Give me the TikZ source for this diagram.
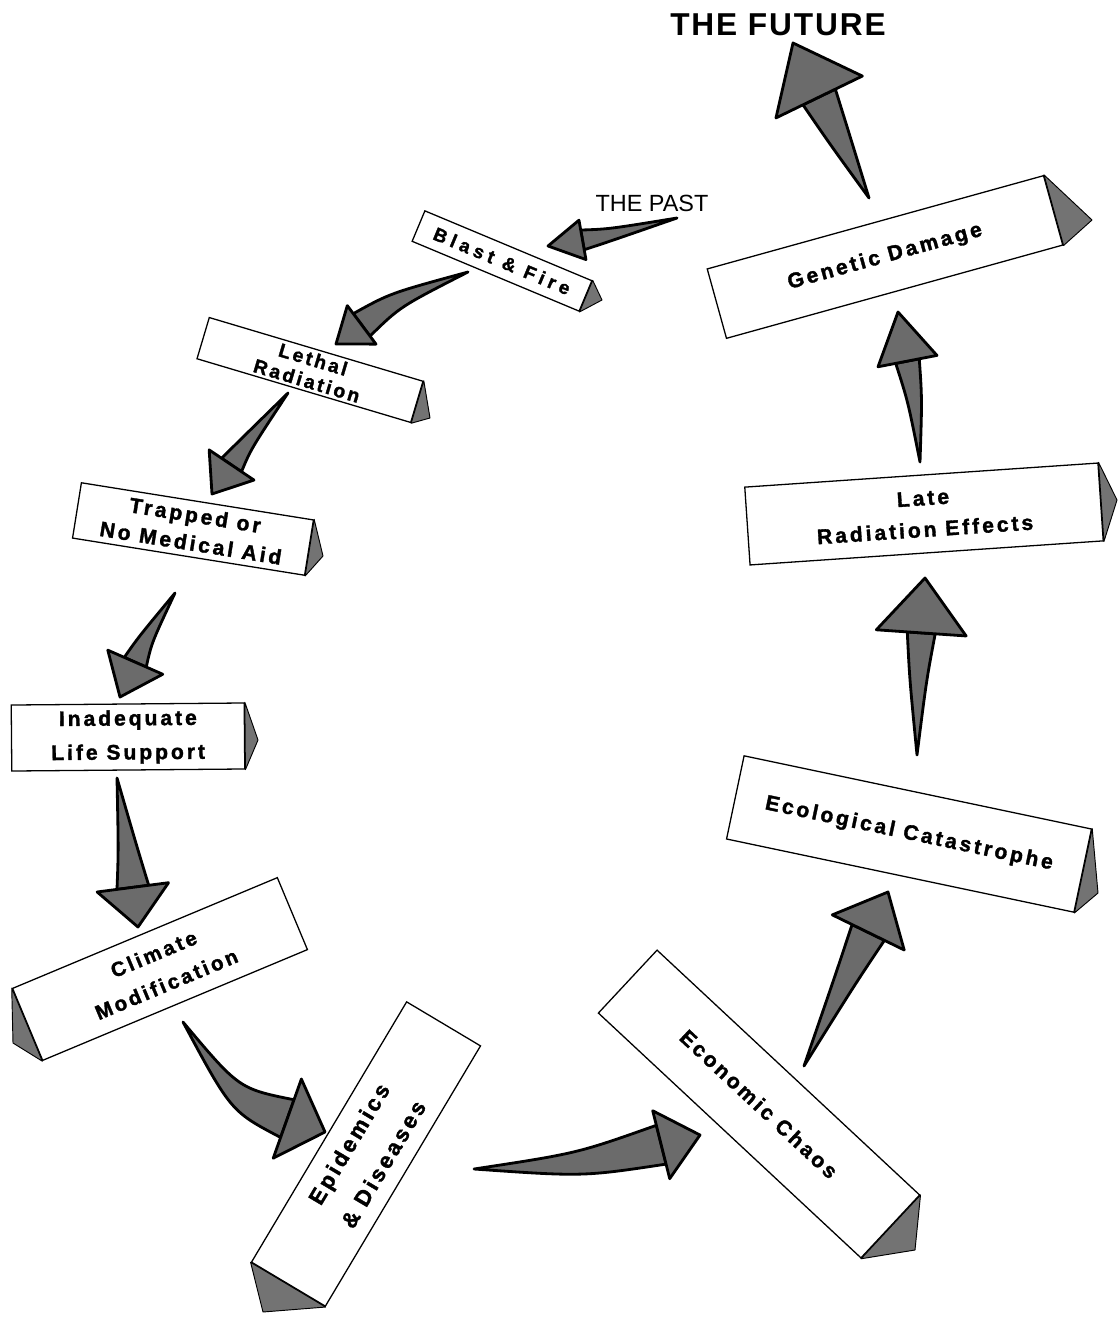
\documentclass[tikz,border=0pt]{standalone}
\usepackage{fontspec}
\setmainfont{Liberation Sans}
\newfontfamily\labelfont[LetterSpace=14, BoldFeatures={FakeBold=1.6}]{Liberation Sans}
\newfontfamily\widefont[LetterSpace=25, BoldFeatures={FakeBold=1.6}]{Liberation Sans}
\newfontfamily\titlefont[LetterSpace=6]{Liberation Sans}
\usetikzlibrary{calc}
\def\pxl{0.3mm}

% fat gray arrow: name, tail, bend, tip, head length, shaft half width, head half width
\newcommand{\fatarrow}[7]{%
  \coordinate (#1-b) at ($(#4)!#5*\pxl!(#3)$);
  \filldraw[fat] (#2) .. controls ($(#3)!#6*0.6*\pxl!90:(#1-b)$) .. ($(#1-b)!#6*\pxl!90:(#4)$)
    -- ($(#1-b)!#6*\pxl!-90:(#4)$) .. controls ($(#3)!#6*0.6*\pxl!-90:(#1-b)$) .. (#2) -- cycle;
  \filldraw[fat] ($(#1-b)!#7*\pxl!90:(#4)$) -- (#4) -- ($(#1-b)!#7*\pxl!-90:(#4)$) -- cycle;
}

\begin{document}
\begin{tikzpicture}[x=\pxl, y=-\pxl,
  box/.style={draw, line width=1.1pt, fill=white, inner sep=0pt, align=center},
  fs/.style 2 args={font=\labelfont\bfseries\fontsize{#1}{#2}\selectfont},
  endface/.style={draw, line width=0.8pt, fill=black!55, line join=round},
  fat/.style={draw, line width=2.4pt, fill=black!58, line join=round}
]
  \useasboundingbox (0,0) rectangle (1119,1317);

  % Titles
  \node[font=\titlefont\bfseries\fontsize{27}{30}\selectfont] (future) at (778,25) {THE FUTURE};
  \node[font=\fontsize{20}{24}\selectfont] (past) at (652,203) {THE PAST};

  % Left side, going down
  \node[box, font=\widefont\bfseries\fontsize{16}{18}\selectfont, rotate=-22.7,
        minimum width=181*\pxl, minimum height=33*\pxl]
    (blast) at (502,261) {Blast \& Fire};
  \node[box, fs={16.5}{19}, rotate=-16.6, minimum width=223*\pxl, minimum height=43*\pxl]
    (lethal) at (310,370) {Lethal\\Radiation};
  \node[box, fs={18}{24}, rotate=-9.1, minimum width=235*\pxl, minimum height=56*\pxl]
    (trapped) at (193,529) {Trapped or\\No Medical Aid};
  \node[box, fs={18}{29}, rotate=0.5, minimum width=233*\pxl, minimum height=66*\pxl]
    (support) at (128,737) {Inadequate\\Life Support};
  \node[box, fs={17.5}{28}, rotate=22.7, minimum width=287*\pxl, minimum height=78*\pxl]
    (climate) at (160,969) {Climate\\Modification};

  % Bottom
  \node[box, fs={19}{34}, rotate=59.2, minimum width=303*\pxl, minimum height=86*\pxl]
    (epidemics) at (366,1154) {Epidemics\\\& Diseases};
  \node[box, fs={18}{22}, rotate=-43, minimum width=359*\pxl, minimum height=86*\pxl]
    (economic) at (759,1104) {Economic Chaos};

  % Right side, going up
  \node[box, fs={18}{22}, rotate=-11.9, minimum width=355*\pxl, minimum height=85*\pxl]
    (ecology) at (909,834) {Ecological Catastrophe};
  \node[box, fs={18}{27}, rotate=3.9, minimum width=354*\pxl, minimum height=78*\pxl]
    (late) at (924,514) {Late\\Radiation Effects};
  \node[box, fs={18}{22}, rotate=15.5, minimum width=349*\pxl, minimum height=72*\pxl]
    (genetic) at (885,257) {Genetic Damage};

  % End faces of the prisms
  \filldraw[endface] (blast.north east) -- (blast.south east) -- (602,300) -- cycle;
  \filldraw[endface] (lethal.north east) -- (lethal.south east) -- (430,418) -- cycle;
  \filldraw[endface] (trapped.north east) -- (trapped.south east) -- (323,556) -- cycle;
  \filldraw[endface] (support.north east) -- (support.south east) -- (258,740) -- cycle;
  \filldraw[endface] (climate.north west) -- (climate.south west) -- (13,1043) -- cycle;
  \filldraw[endface] (epidemics.north west) -- (epidemics.south west) -- (263,1312) -- cycle;
  \filldraw[endface] (economic.north east) -- (economic.south east) -- (915,1250) -- cycle;
  \filldraw[endface] (ecology.north east) -- (ecology.south east) -- (1098,893) -- cycle;
  \filldraw[endface] (late.north east) -- (late.south east) -- (1117,500) -- cycle;
  \filldraw[endface] (genetic.north east) -- (genetic.south east) -- (1092,220) -- cycle;

  % Arrow ends
  \coordinate (p0) at (677,218);  \coordinate (c0) at (610,235);  \coordinate (q0) at (548,246);
  \coordinate (p1) at (468,272);  \coordinate (c1) at (395,300);  \coordinate (q1) at (336,344);
  \coordinate (p2) at (288,393);  \coordinate (c2) at (245,445);  \coordinate (q2) at (212,494);
  \coordinate (p3) at (175,593);  \coordinate (c3) at (145,640);  \coordinate (q3) at (120,697);
  \coordinate (p4) at (117,778);  \coordinate (c4) at (128,850);  \coordinate (q4) at (138,927);
  \coordinate (p5) at (183,1022); \coordinate (c5) at (235,1100); \coordinate (q5) at (325,1132);
  \coordinate (p6) at (474,1169); \coordinate (c6) at (580,1165); \coordinate (q6) at (700,1135);
  \coordinate (p7) at (804,1066); \coordinate (c7) at (845,980);  \coordinate (q7) at (888,892);
  \coordinate (p8) at (917,755);  \coordinate (c8) at (918,680);  \coordinate (q8) at (925,578);
  \coordinate (p9) at (920,462);  \coordinate (c9) at (915,400);  \coordinate (q9) at (898,312);
  \coordinate (p10) at (869,198); \coordinate (c10) at (840,140); \coordinate (q10) at (793,43);

  % Arrows
  \fatarrow{a0}{p0}{c0}{q0}{35}{10}{20}
  \fatarrow{a1}{p1}{c1}{q1}{32}{14}{24}
  \fatarrow{a2}{p2}{c2}{q2}{35}{12}{27}
  \fatarrow{a3}{p3}{c3}{q3}{38}{12}{30}
  \fatarrow{a4}{p4}{c4}{q4}{40}{16}{36}
  \fatarrow{a5}{p5}{c5}{q5}{40}{20}{42}
  \fatarrow{a6}{p6}{c6}{q6}{40}{20}{35}
  \fatarrow{a7}{p7}{c7}{q7}{45}{18}{40}
  \fatarrow{a8}{p8}{c8}{q8}{55}{14}{45}
  \fatarrow{a9}{p9}{c9}{q9}{50}{12}{30}
  \fatarrow{a10}{p10}{c10}{q10}{60}{18}{48}
\end{tikzpicture}
\end{document}
